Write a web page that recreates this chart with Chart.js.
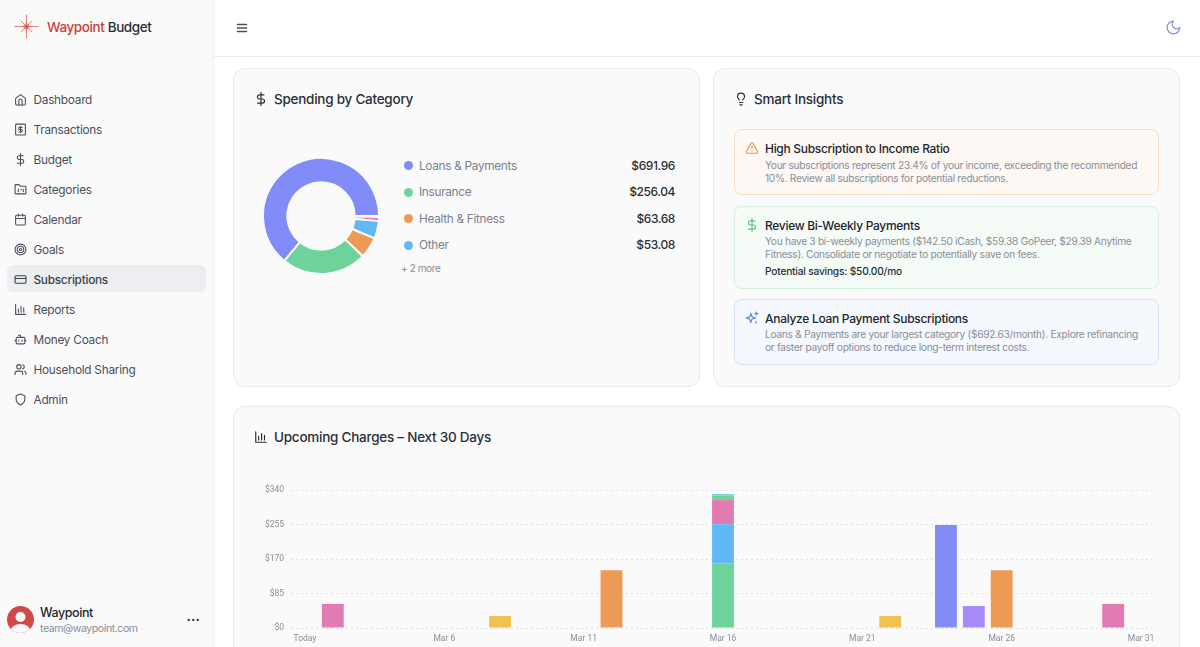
<!DOCTYPE html>
<html><head><meta charset="utf-8">
<script src="https://cdn.jsdelivr.net/npm/chart.js@4"></script>
<style>
*{box-sizing:border-box}
html,body{margin:0;width:1200px;height:647px;overflow:hidden;background:#fff;font-family:Inter,"Noto Sans",sans-serif;color:#1f2430}
.abs{position:absolute}
#side{left:0;top:0;width:214px;height:647px;background:#fafafb;border-right:1px solid #eceef1}
#head{left:214px;top:0;width:986px;height:57px;border-bottom:1px solid #e9ebee;background:#fff}
.t{position:absolute;white-space:nowrap}
.nav{position:absolute;left:33.5px;font-size:11.8px;letter-spacing:-.25px;color:#4a4f5c;line-height:16px;white-space:nowrap}
svg.ic{position:absolute;fill:none;stroke-linecap:round;stroke-linejoin:round}
.card{position:absolute;background:#fafafa;border:1px solid #e8e9ec;border-radius:12px}
.h2{position:absolute;font-size:13.5px;letter-spacing:-.25px;font-weight:500;color:#2a2e38;white-space:nowrap;line-height:18px}
.dot{position:absolute;width:9px;height:9px;border-radius:50%}
.lab{position:absolute;left:419px;font-size:11.8px;letter-spacing:-.3px;color:#7b808c;line-height:16px;white-space:nowrap}
.val{position:absolute;right:525px;font-size:12px;letter-spacing:-.4px;font-weight:500;color:#2a2e38;line-height:16px;white-space:nowrap}
.box{position:absolute;left:734px;width:425px;border-radius:8px;border:1px solid}
.bt{position:absolute;left:765px;font-size:12px;letter-spacing:-.3px;font-weight:500;color:#22262f;line-height:16px;white-space:nowrap}
.bb{position:absolute;left:765px;font-size:10.2px;letter-spacing:-.3px;color:#8a8e99;line-height:13.4px;white-space:nowrap}
#chartWrap{position:absolute;left:254px;top:478px;width:910px;height:173px}
#donutWrap{position:absolute;left:256px;top:151px;width:130px;height:130px}
</style></head><body>
<div id="side" class="abs"></div>
<div id="head" class="abs"></div>

<svg class="ic" style="left:14px;top:14px" width="25" height="25" viewBox="0 0 25 25" stroke="#e0736b" stroke-width=".9"><path d="M12.5 1v23M1 12.5h23M7 7l11 11M18 7L7 18"/><path d="M12.5 8.5l1 3 3 1-3 1-1 3-1-3-3-1 3-1z" fill="#d2524a"/></svg>
<div class="t" style="left:47px;top:18px;font-size:13.5px;letter-spacing:-.4px;font-weight:500;line-height:18px;color:#c8403a">Waypoint <span style="color:#2a2e38">Budget</span></div>

<svg class="ic" style="left:14px;top:93px" width="13" height="13" viewBox="0 0 24 24" stroke="#4a4f5c" stroke-width="2"><path d="M3 10l9-7 9 7v10a2 2 0 0 1-2 2H5a2 2 0 0 1-2-2z"/><path d="M9 22v-8a3 3 0 0 1 6 0v8"/></svg>
<div class="nav" style="top:92px">Dashboard</div>
<svg class="ic" style="left:14px;top:123px" width="13" height="13" viewBox="0 0 24 24" stroke="#4a4f5c" stroke-width="2"><rect x="3" y="2" width="18" height="20" rx="1"/><path d="M15 8h-4.5a1.8 1.8 0 0 0 0 4h3a1.8 1.8 0 0 1 0 4H9M12 6v12"/></svg>
<div class="nav" style="top:122px">Transactions</div>
<svg class="ic" style="left:14px;top:153px" width="13" height="13" viewBox="0 0 24 24" stroke="#4a4f5c" stroke-width="2"><path d="M12 1v22M17 5H9.5a3.5 3.5 0 0 0 0 7h5a3.5 3.5 0 0 1 0 7H6"/></svg>
<div class="nav" style="top:152px">Budget</div>
<svg class="ic" style="left:14px;top:183px" width="13" height="13" viewBox="0 0 24 24" stroke="#4a4f5c" stroke-width="2"><path d="M3 20h18a1 1 0 0 0 1-1V7a1 1 0 0 0-1-1h-9L9 3H3a1 1 0 0 0-1 1v15a1 1 0 0 0 1 1z"/><path d="M8 11v5M13 11v2M17 11v5"/></svg>
<div class="nav" style="top:182px">Categories</div>
<svg class="ic" style="left:14px;top:213px" width="13" height="13" viewBox="0 0 24 24" stroke="#4a4f5c" stroke-width="2"><rect x="3" y="4" width="18" height="18" rx="2"/><path d="M16 2v4M8 2v4M3 10h18"/></svg>
<div class="nav" style="top:212px">Calendar</div>
<svg class="ic" style="left:14px;top:243px" width="13" height="13" viewBox="0 0 24 24" stroke="#4a4f5c" stroke-width="2"><circle cx="12" cy="12" r="10"/><circle cx="12" cy="12" r="6"/><circle cx="12" cy="12" r="2"/></svg>
<div class="nav" style="top:242px">Goals</div>
<div class="abs" style="left:7px;top:265px;width:199px;height:27px;background:#eceef1;border-radius:6px"></div>
<svg class="ic" style="left:14px;top:273px" width="13" height="13" viewBox="0 0 24 24" stroke="#3a3f4b" stroke-width="2"><rect x="2" y="5" width="20" height="14" rx="2"/><path d="M2 10h20"/></svg>
<div class="nav" style="top:272px;color:#3a3f4b;font-weight:500">Subscriptions</div>
<svg class="ic" style="left:14px;top:303px" width="13" height="13" viewBox="0 0 24 24" stroke="#4a4f5c" stroke-width="2"><path d="M3 3v18h18M8 17v-6M13 17V6M18 17v-8"/></svg>
<div class="nav" style="top:302px">Reports</div>
<svg class="ic" style="left:14px;top:333px" width="13" height="13" viewBox="0 0 24 24" stroke="#4a4f5c" stroke-width="2"><path d="M12 8V4H8"/><rect x="4" y="8" width="16" height="12" rx="2"/><path d="M2 14h2M20 14h2M15 13v2M9 13v2"/></svg>
<div class="nav" style="top:332px">Money Coach</div>
<svg class="ic" style="left:14px;top:363px" width="13" height="13" viewBox="0 0 24 24" stroke="#4a4f5c" stroke-width="2"><path d="M16 21v-2a4 4 0 0 0-4-4H6a4 4 0 0 0-4 4v2"/><circle cx="9" cy="7" r="4"/><path d="M22 21v-2a4 4 0 0 0-3-3.87M16 3.13a4 4 0 0 1 0 7.75"/></svg>
<div class="nav" style="top:362px">Household Sharing</div>
<svg class="ic" style="left:14px;top:393px" width="13" height="13" viewBox="0 0 24 24" stroke="#4a4f5c" stroke-width="2"><path d="M12 22s8-4 8-10V5l-8-3-8 3v7c0 6 8 10 8 10z"/></svg>
<div class="nav" style="top:392px">Admin</div>

<svg class="ic" style="left:7px;top:606px" width="27" height="27" viewBox="0 0 27 27"><defs><clipPath id="av"><circle cx="13.5" cy="13.5" r="13.5"/></clipPath></defs><circle cx="13.5" cy="13.5" r="13.5" fill="#cf4a48"/><g clip-path="url(#av)" fill="#fafafb"><circle cx="13.5" cy="11" r="5"/><ellipse cx="13.5" cy="25" rx="10" ry="7"/></g></svg>
<div class="t" style="left:40px;top:605px;font-size:12.5px;letter-spacing:-.4px;font-weight:500;line-height:16px;color:#22262f">Waypoint</div>
<div class="t" style="left:40px;top:621px;font-size:10.5px;letter-spacing:-.4px;line-height:15px;color:#8a8e99">team@waypoint.com</div>
<div class="t" style="left:186.5px;top:611px;font-size:13px;font-weight:700;line-height:16px;color:#2a2e38;letter-spacing:.2px">···</div>

<svg class="ic" style="left:235px;top:21px" width="14" height="14" viewBox="0 0 24 24" stroke="#4a4f5c" stroke-width="2.2"><path d="M4 6h16M4 12h16M4 18h16"/></svg>
<svg class="ic" style="left:1165px;top:19px" width="17" height="17" viewBox="0 0 24 24" stroke="#8b8fe8" stroke-width="1.8"><path d="M12 3a6 6 0 0 0 9 9 9 9 0 1 1-9-9z"/></svg>

<div class="card" style="left:233px;top:68px;width:467px;height:319px"></div>
<div class="card" style="left:713px;top:68px;width:467px;height:319px"></div>
<div class="card" style="left:233px;top:406px;width:947px;height:300px"></div>

<svg class="ic" style="left:254px;top:92px" width="14" height="14" viewBox="0 0 24 24" stroke="#2a2e38" stroke-width="2"><path d="M12 1v22M17 5H9.5a3.5 3.5 0 0 0 0 7h5a3.5 3.5 0 0 1 0 7H6"/></svg>
<div class="h2" style="left:274px;top:90px">Spending by Category</div>
<svg class="ic" style="left:734px;top:92px" width="14" height="14" viewBox="0 0 24 24" stroke="#2a2e38" stroke-width="2"><path d="M15 14c.2-1 .7-1.7 1.5-2.5A5.8 5.8 0 0 0 18 8 6 6 0 0 0 6 8c0 1 .2 2.2 1.5 3.5.7.7 1.3 1.5 1.5 2.5M9 18h6M10 22h4"/></svg>
<div class="h2" style="left:754px;top:90px">Smart Insights</div>
<svg class="ic" style="left:254px;top:430px" width="14" height="14" viewBox="0 0 24 24" stroke="#2a2e38" stroke-width="2"><path d="M3 3v18h18M8 17v-6M13 17V6M18 17v-8"/></svg>
<div class="h2" style="left:274px;top:428px">Upcoming Charges – Next 30 Days</div>

<div id="donutWrap"><canvas id="donut"></canvas></div>
<div class="dot" style="left:404px;top:160.5px;background:#818cf8"></div><div class="lab" style="top:157.5px">Loans &amp; Payments</div><div class="val" style="top:157.5px">$691.96</div>
<div class="dot" style="left:404px;top:187.5px;background:#6ed39a"></div><div class="lab" style="top:184px">Insurance</div><div class="val" style="top:184px">$256.04</div>
<div class="dot" style="left:404px;top:214px;background:#ed9a55"></div><div class="lab" style="top:211px">Health &amp; Fitness</div><div class="val" style="top:211px">$63.68</div>
<div class="dot" style="left:404px;top:240.5px;background:#60b8f5"></div><div class="lab" style="top:237px">Other</div><div class="val" style="top:237px">$53.08</div>
<div class="t" style="left:401px;top:261px;font-size:10px;letter-spacing:-.4px;line-height:14px;color:#8a8e99">+ 2 more</div>

<div class="box" style="top:129px;height:66px;background:#fdf8f3;border-color:#f8dcc4"></div>
<svg class="ic" style="left:745px;top:141px" width="14" height="14" viewBox="0 0 24 24" stroke="#e8965a" stroke-width="2"><path d="M21.7 18l-8-14a2 2 0 0 0-3.4 0l-8 14A2 2 0 0 0 4 21h16a2 2 0 0 0 1.7-3zM12 9v4M12 17h.01"/></svg>
<div class="bt" style="top:141px">High Subscription to Income Ratio</div>
<div class="bb" style="top:158.5px">Your subscriptions represent 23.4% of your income, exceeding the recommended<br>10%. Review all subscriptions for potential reductions.</div>

<div class="box" style="top:206px;height:83px;background:#f5fbf7;border-color:#d5f0de"></div>
<svg class="ic" style="left:745px;top:218px" width="14" height="14" viewBox="0 0 24 24" stroke="#5fc27f" stroke-width="2"><path d="M12 1v22M17 5H9.5a3.5 3.5 0 0 0 0 7h5a3.5 3.5 0 0 1 0 7H6"/></svg>
<div class="bt" style="top:218px">Review Bi-Weekly Payments</div>
<div class="bb" style="top:235px">You have 3 bi-weekly payments ($142.50 iCash, $59.38 GoPeer, $29.39 Anytime<br>Fitness). Consolidate or negotiate to potentially save on fees.</div>
<div class="bb" style="top:265px;color:#2a2e38;font-weight:500;letter-spacing:-.2px">Potential savings: $50.00/mo</div>

<div class="box" style="top:299px;height:66px;background:#f5f8fd;border-color:#d5e2f8"></div>
<svg class="ic" style="left:745px;top:311px" width="14" height="14" viewBox="0 0 24 24" stroke="#5b86e5" stroke-width="2"><path d="M10 4l2 6 6 2-6 2-2 6-2-6-6-2 6-2zM19 2v5M17 4.5h5M19 18v3"/></svg>
<div class="bt" style="top:311px">Analyze Loan Payment Subscriptions</div>
<div class="bb" style="top:328px">Loans &amp; Payments are your largest category ($692.63/month). Explore refinancing<br>or faster payoff options to reduce long-term interest costs.</div>

<div id="chartWrap"><canvas id="bars"></canvas></div>

<script>
const donutLabels = ["More 2","More 1","Other","Health & Fitness","Insurance","Loans & Payments"];
const donutValues = [3.1,12.1,53.08,63.68,256.04,691.96];
const donutColors = ["#a5d8e6","#e27ab3","#60b8f5","#ed9a55","#6ed39a","#818cf8"];

const days = ["Today","Mar 2","Mar 3","Mar 4","Mar 5","Mar 6","Mar 7","Mar 8","Mar 9","Mar 10","Mar 11","Mar 12","Mar 13","Mar 14","Mar 15","Mar 16","Mar 17","Mar 18","Mar 19","Mar 20","Mar 21","Mar 22","Mar 23","Mar 24","Mar 25","Mar 26","Mar 27","Mar 28","Mar 29","Mar 30","Mar 31"];
const yTicks = [0,85,170,255,340];
const greenVals  = [0,0,0,0,0,0,0,0,0,0,0,0,0,0,0,159,0,0,0,0,0,0,0,0,0,0,0,0,0,0,0];
const blueVals   = [0,0,0,0,0,0,0,0,0,0,0,0,0,0,0,97,0,0,0,0,0,0,0,0,0,0,0,0,0,0,0];
const pinkVals   = [0,59.38,0,0,0,0,0,0,0,0,0,0,0,0,0,59.38,0,0,0,0,0,0,0,0,0,0,0,0,0,59.38,0];
const green2Vals = [0,0,0,0,0,0,0,0,0,0,0,0,0,0,0,11.5,0,0,0,0,0,0,0,0,0,0,0,0,0,0,0];
const cyanVals   = [0,0,0,0,0,0,0,0,0,0,0,0,0,0,0,3,0,0,0,0,0,0,0,0,0,0,0,0,0,0,0];
const yellowVals = [0,0,0,0,0,0,0,29.39,0,0,0,0,0,0,0,0,0,0,0,0,0,29.39,0,0,0,0,0,0,0,0,0];
const orangeVals = [0,0,0,0,0,0,0,0,0,0,0,142.5,0,0,0,0,0,0,0,0,0,0,0,0,0,142.5,0,0,0,0,0];
const indigoVals = [0,0,0,0,0,0,0,0,0,0,0,0,0,0,0,0,0,0,0,0,0,0,0,254,0,0,0,0,0,0,0];
const violetVals = [0,0,0,0,0,0,0,0,0,0,0,0,0,0,0,0,0,0,0,0,0,0,0,0,54,0,0,0,0,0,0];

Chart.defaults.animation = false;
Chart.defaults.font.family = "Roboto, 'Noto Sans', sans-serif";

new Chart(document.getElementById("donut"),{
  type:"doughnut",
  data:{labels:donutLabels,datasets:[{data:donutValues,backgroundColor:donutColors,borderColor:"#fafafa",borderWidth:2}]},
  options:{responsive:true,maintainAspectRatio:false,rotation:90,cutout:"58%",
    layout:{padding:6},plugins:{legend:{display:false},tooltip:{enabled:false}}}
});

const ds=(data,color)=>({data,backgroundColor:color,borderWidth:0,stack:"a",barPercentage:0.98,categoryPercentage:0.8});
new Chart(document.getElementById("bars"),{
  type:"bar",
  data:{labels:days,datasets:[
    ds(greenVals,"#6ed39a"),ds(blueVals,"#60b8f5"),ds(pinkVals,"#e27ab3"),
    ds(green2Vals,"#6ed39a"),ds(cyanVals,"#5fc9d8"),ds(yellowVals,"#f2c14e"),
    ds(orangeVals,"#ed9a55"),ds(indigoVals,"#818cf8"),ds(violetVals,"#a78bfa")
  ]},
  options:{responsive:true,maintainAspectRatio:false,
    layout:{padding:{left:0,right:9,top:3,bottom:1.8}},
    plugins:{legend:{display:false},tooltip:{enabled:false}},
    scales:{
      x:{stacked:true,grid:{display:false,drawTicks:false},border:{display:false},
        ticks:{autoSkip:false,maxRotation:0,font:{size:8.5},color:"#8a8e99",padding:5.5,
          callback(v,i){return i%5===0?days[i]:"";}}},
      y:{stacked:true,min:0,max:340,afterBuildTicks(a){a.ticks=yTicks.map(value=>({value}));},
        afterFit(s){s.width=37;},
        grid:{color:"#e0e1e5",drawTicks:false},border:{display:false,dash:[2,3]},
        ticks:{font:{size:8.5},color:"#8a8e99",padding:7,callback:v=>"$"+v}}
    }}
});
</script>
</body></html>
